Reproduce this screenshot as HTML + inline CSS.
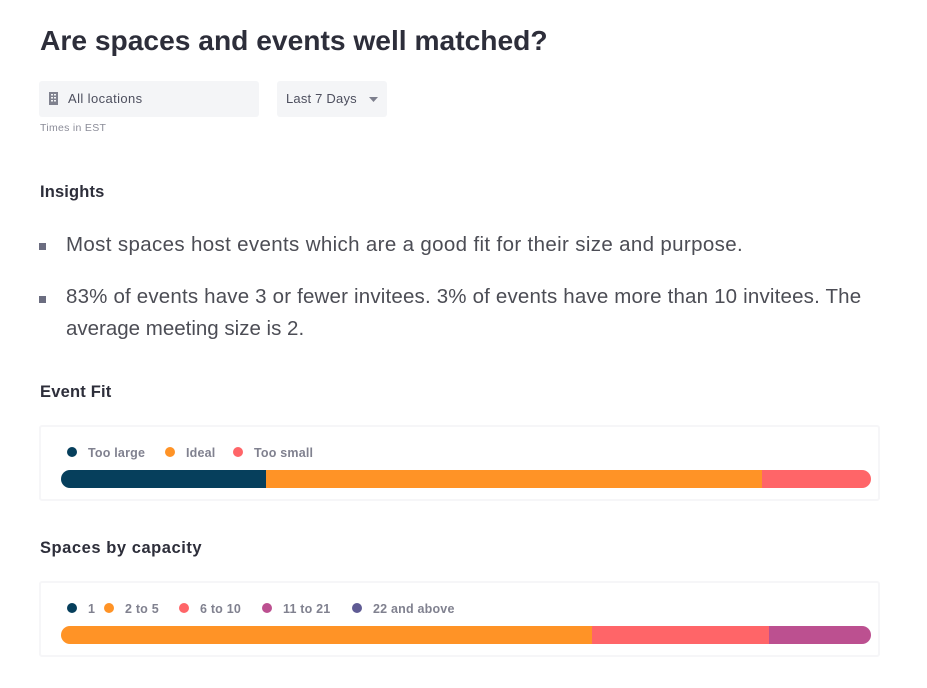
<!DOCTYPE html>
<html lang="en">
<head>
<meta charset="utf-8">
<title>Are spaces and events well matched?</title>
<style>
html,body{margin:0;padding:0;background:#fff;}
body{width:927px;height:688px;position:relative;overflow:hidden;font-family:"Liberation Sans",sans-serif;}
.t{position:absolute;white-space:nowrap;margin:0;}
.h2{font-size:16.5px;font-weight:700;color:#2d2e3a;line-height:20px;}
.p{font-size:20.5px;color:#4c4d55;line-height:32px;}
.bullet{position:absolute;width:7px;height:7px;background:#6b6d80;}
.card{position:absolute;left:39px;width:841px;height:76px;border:2px solid #f6f6f8;border-radius:3px;box-sizing:border-box;}
.ctl{position:absolute;top:81px;height:36px;background:#f4f5f7;border-radius:3px;}
.leg{font-size:12.5px;font-weight:700;color:#80818f;line-height:16px;letter-spacing:.2px;}
.dot{position:absolute;width:10px;height:10px;border-radius:50%;}
</style>
</head>
<body>
<h1 class="t" style="left:40px;top:22px;font-size:28.2px;line-height:36px;font-weight:700;color:#2d2e3a;">Are spaces and events well matched?</h1>

<div class="ctl" style="left:39px;width:220px;">
  <svg style="position:absolute;left:9px;top:11px" width="11" height="13" viewBox="0 0 11 13"><rect x="1" y="0" width="9" height="13" fill="#80828f"/><g fill="#f4f5f7"><rect x="3" y="2" width="2" height="1.5"/><rect x="6" y="2" width="2" height="1.5"/><rect x="3" y="5" width="2" height="1.5"/><rect x="6" y="5" width="2" height="1.5"/><rect x="3" y="8" width="2" height="1.5"/><rect x="6" y="8" width="2" height="1.5"/></g></svg>
  <span class="t" style="left:29px;top:9px;font-size:13px;line-height:18px;color:#4d4f5e;letter-spacing:.4px;">All locations</span>
</div>
<div class="ctl" style="left:277px;width:110px;">
  <span class="t" style="left:9px;top:9px;font-size:13px;line-height:18px;color:#4d4f5e;letter-spacing:.2px;">Last 7 Days</span>
  <svg style="position:absolute;left:92px;top:15.5px" width="9" height="5" viewBox="0 0 9 5"><path d="M0 0H9L4.5 5Z" fill="#7d7f8d"/></svg>
</div>
<div class="t" style="left:40px;top:121px;font-size:10.5px;line-height:14px;color:#8b8c98;letter-spacing:.3px;">Times in EST</div>

<h2 class="t h2" style="left:40px;top:182px;letter-spacing:.15px;">Insights</h2>
<div class="bullet" style="left:39px;top:243px;"></div>
<p class="t p" style="left:66px;top:229px;letter-spacing:.35px;">Most spaces host events which are a good fit for their size and purpose.</p>
<div class="bullet" style="left:39px;top:296px;"></div>
<p class="t p" style="left:66px;top:281px;"><span style="letter-spacing:.18px;">83% of events have 3 or fewer invitees. 3% of events have more than 10 invitees. The</span><br>average meeting size is 2.</p>

<h2 class="t h2" style="left:40px;top:382px;letter-spacing:.2px;">Event Fit</h2>
<div class="card" style="top:424.5px;"></div>

<h2 class="t h2" style="left:40px;top:538px;letter-spacing:.55px;">Spaces by capacity</h2>
<div class="card" style="top:580.5px;"></div>

<div id="charts"></div>

<script>
var fitCategories = ['Too large', 'Ideal', 'Too small'];
var fitValues = [25.3, 61.3, 13.4];
var capacityCategories = ['1', '2 to 5', '6 to 10', '11 to 21', '22 and above'];
var capacityValues = [0, 65.6, 21.8, 12.6, 0];

var fitColors = ['#063f5c', '#ff9326', '#ff6568'];
var capacityColors = ['#063f5c', '#ff9326', '#ff6568', '#bc5090', '#5f5b94'];
var fitDotX = [67, 165, 233];
var fitTextX = [88, 186, 254];
var capDotX = [67, 104, 179, 262, 352];
var capTextX = [88, 125, 200, 283, 373];

var root = document.getElementById('charts');

function xScale(v, total, left, width) {
  return left + v / total * width;
}

function drawStacked(name, cats, vals, colors, dotX, textX, legendY, barY) {
  var left = 61, width = 810, height = 17.5;
  var total = vals.reduce(function (a, b) { return a + b; }, 0);
  cats.forEach(function (c, i) {
    var d = document.createElement('div');
    d.className = 'dot';
    
    
    d.style.left = dotX[i] + 'px';
    d.style.top = (legendY - 5) + 'px';
    d.style.background = colors[i];
    root.appendChild(d);
    var t = document.createElement('span');
    t.className = 't leg';
    
    
    t.style.left = textX[i] + 'px';
    t.style.top = (legendY - 7) + 'px';
    t.textContent = c;
    root.appendChild(t);
  });
  var bar = document.createElement('div');
  
  
  bar.style.cssText = 'position:absolute;overflow:hidden;border-radius:9px;left:' + left + 'px;top:' + barY + 'px;width:' + width + 'px;height:' + height + 'px;';
  root.appendChild(bar);
  var cum = 0;
  vals.forEach(function (v, i) {
    var x0 = xScale(cum, total, left, width);
    cum += v;
    var x1 = xScale(cum, total, left, width);
    var s = document.createElement('div');
    
    
    s.title = cats[i] + ': ' + v + '%';
    s.style.cssText = 'position:absolute;top:0;height:100%;left:' + (x0 - left) + 'px;width:' + (x1 - x0) + 'px;background:' + colors[i] + ';';
    bar.appendChild(s);
  });
}

drawStacked('event-fit', fitCategories, fitValues, fitColors, fitDotX, fitTextX, 452, 470);
drawStacked('capacity', capacityCategories, capacityValues, capacityColors, capDotX, capTextX, 608, 626);
</script>
</body>
</html>
